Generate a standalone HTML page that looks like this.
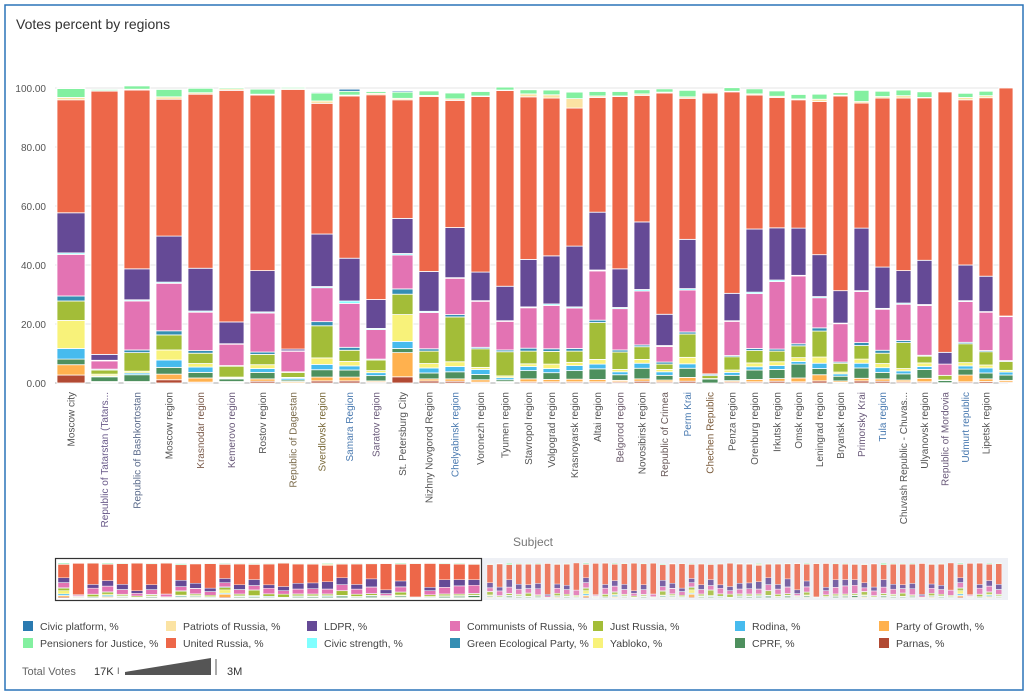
<!DOCTYPE html>
<html><head><meta charset="utf-8"><style>
html,body{margin:0;padding:0;background:#fff;width:1028px;height:695px;overflow:hidden}
svg{display:block;font-family:"Liberation Sans",sans-serif}
</style></head><body>
<svg id="chart" width="1028" height="695">
<rect x="5" y="5" width="1018" height="685" fill="#fff" stroke="#2a73b8" stroke-width="1.5"/>
<text x="16" y="29" font-size="14" fill="#333">Votes percent by regions</text>
<g id="grid"></g><g id="bars"></g><g id="xlabels"></g><g id="nav"></g><g id="legend"></g>
<text x="533" y="546" font-size="12" fill="#777" text-anchor="middle">Subject</text>
<g>
<text x="22" y="675" font-size="11" fill="#666">Total Votes</text>
<text x="94" y="675" font-size="11" fill="#333">17K</text>
<text x="117" y="674" font-size="9" fill="#555">I</text>
<polygon points="125,672 211,658 211,675 125,675" fill="#555"/>
<line x1="216" y1="659" x2="216" y2="675" stroke="#555"/>
<text x="227" y="675" font-size="11" fill="#333">3M</text>
</g>
</svg>
<script>
const regions=["Moscow city","Republic of Tatarstan (Tatars...","Republic of Bashkortostan","Moscow region","Krasnodar region","Kemerovo region","Rostov region","Republic of Dagestan","Sverdlovsk region","Samara Region","Saratov region","St. Petersburg City","Nizhny Novgorod Region","Chelyabinsk region","Voronezh region","Tyumen region","Stavropol region","Volgograd region","Krasnoyarsk region","Altai region","Belgorod region","Novosibirsk region","Republic of Crimea","Perm Krai","Chechen Republic","Penza region","Orenburg region","Irkutsk region","Omsk region","Leningrad region","Bryansk region","Primorsky Krai","Tula region","Chuvash Republic - Chuvas...","Ulyanovsk region","Republic of Mordovia","Udmurt republic","Lipetsk region",""];
const totalVotesK=[3000,2800,2600,2600,2400,2400,2400,2200,1800,1600,1400,1600,1400,1400,1200,1000,800,800,800,800,600,600,800,800,600,600,800,600,400,400,400,400,400,400,400,200,400,200,200];
const parnas=[2.7,.2,.2,1.1,.3,.2,.6,.1,.7,.7,.3,2.1,.7,.6,.3,.2,.4,.4,.4,.4,.4,.6,.4,.6,0,.4,.4,.6,.4,.7,.2,.7,.6,.4,.4,0,.4,.5,.3];
const growth=[3.5,.3,.3,1.9,1.4,.3,.8,.4,1.3,1.3,.4,8.2,.7,.8,.8,.3,1.0,.8,.9,.8,.5,.8,.6,1.3,0,.4,.8,.9,1.3,2.1,.5,.9,.8,.6,1.2,.1,2.3,.9,.6];
const cprf=[1.9,1.6,2.3,2.3,1.9,.9,2.2,.5,2.5,2.4,1.8,1.4,2.0,2.4,1.8,.6,2.8,2.3,2.9,3.6,1.9,3.6,1.6,3.1,1.4,1.8,3.2,3.1,4.7,2.1,1.6,3.5,2.2,2.1,3.0,.8,2.0,2.0,1.8];
const rodina=[3.6,.3,.6,2.5,1.8,.3,1.3,.6,1.8,1.4,1.0,2.4,1.7,1.8,1.7,.7,1.4,1.4,1.7,1.6,1.0,1.7,1.2,1.5,.1,1.0,1.1,1.3,.9,1.8,.8,1.6,1.6,1.0,1.0,.1,1.1,1.7,1.0];
const yabloko=[9.5,.6,.6,3.4,1.2,.3,1.3,.3,2.2,1.5,.7,9.1,1.5,1.6,.7,.6,.9,1.5,1.1,1.6,.8,1.3,.8,2.2,0,.8,1.3,1.3,1.3,2.1,.6,1.4,1.4,.8,1.2,0,1.1,1.0,.6];
const justRussia=[6.6,1.4,6.3,5.1,3.5,3.7,3.5,1.7,10.9,3.8,3.6,6.9,4.2,15.2,6.3,8.2,4.3,4.3,3.8,12.5,5.9,4.3,1.8,7.9,1.0,4.5,4.2,3.6,4.0,8.8,3.0,4.6,3.5,8.8,2.3,1.6,6.4,4.5,3.0];
const greenEco=[1.7,.3,.9,1.4,.9,.2,.8,.2,1.4,1.0,.3,1.8,.8,.8,.5,.6,1.0,.9,.9,.8,.7,.6,.7,.7,.5,.4,.7,.7,.7,1.1,.4,1.0,1.0,.7,.3,0,.5,.4,.3];
const communists=[14.1,2.8,16.6,16.1,13.0,7.3,13.2,7.0,11.5,14.9,10.0,11.5,12.3,12.3,15.6,9.7,13.7,14.7,13.7,16.7,14.0,18.3,5.3,14.2,0,11.6,18.6,22.9,23.0,10.2,13.0,17.3,13.9,12.3,16.9,3.8,13.8,13.0,14.9];
const civicStrength=[.5,.2,.4,.4,.4,.1,.4,.1,.4,.8,.4,.5,.4,.2,.2,.2,.3,.5,.4,.3,.4,.5,.3,.5,0,.2,.5,.5,.2,.4,.2,.3,.3,.4,.3,0,.3,.2,.2];
const ldpr=[13.6,2.0,10.5,15.6,14.5,7.4,14.0,.6,17.8,14.5,9.8,11.9,13.5,17.0,9.7,11.7,16.1,16.3,20.6,19.6,13.1,22.9,10.6,16.7,.1,9.3,21.4,17.7,16.0,14.2,11.0,21.2,14.0,11.0,15.0,4.0,12.1,12.0,0];
const unitedRussia=[38.3,89.3,60.6,46.4,59.0,78.5,59.5,88.0,44.3,55.0,69.4,40.2,59.3,43.1,59.5,66.4,55.1,53.5,46.8,38.9,58.4,42.9,75.0,47.8,95.2,68.3,45.4,44.2,43.5,51.9,66.0,42.4,57.3,58.5,55.1,88.3,56.0,60.5,77.3];
const patriots=[.8,.1,.3,.8,.5,.5,.3,.3,.8,.3,.5,.5,.4,.5,.2,.1,1.0,1.1,3.2,.5,.2,.5,.3,.5,.4,.2,.4,.4,.3,.8,.3,.5,.5,.8,.1,.2,.8,.7,0];
const pensioners=[3.0,.4,1.1,2.5,1.5,.4,1.7,.4,2.7,1.3,.6,2.1,1.5,2.0,1.5,1.0,1.4,1.6,2.2,1.5,1.5,1.4,1.1,2.2,.3,1.2,1.7,1.8,1.5,1.7,.8,3.8,1.8,1.9,1.9,.1,1.4,1.5,0];
const civicPlatform=[.2,0,0,0,0,0,0,0,.3,.7,0,.4,0,0,0,0,0,0,0,0,0,0,0,0,0,0,0,0,0,0,0,0,0,0,0,0,0,0,0];
const yTicks=["0.00","20.00","40.00","60.00","80.00","100.00"];

const seriesNames=["Parnas, %","Party of Growth, %","CPRF, %","Rodina, %","Yabloko, %","Just Russia, %","Green Ecological Party, %","Communists of Russia, %","Civic strength, %","LDPR, %","United Russia, %","Patriots of Russia, %","Pensioners for Justice, %","Civic platform, %"];
const seriesData=[parnas,growth,cprf,rodina,yabloko,justRussia,greenEco,communists,civicStrength,ldpr,unitedRussia,patriots,pensioners,civicPlatform];
const seriesColors=["#b24a33","#ffb14e","#4e905e","#47bbee","#f8f27a","#a3bd38","#358eb3","#e373b3","#80ffff","#654a96","#ed6749","#fbe3a3","#83f0a0","#2a7ab0"];
const slugs=["parnas","party-of-growth","cprf","rodina","yabloko","just-russia","green-ecological","communists-of-russia","civic-strength","ldpr","united-russia","patriots-of-russia","pensioners-for-justice","civic-platform"];
const NS="http://www.w3.org/2000/svg";
function mk(tag,attrs,parent){const e=document.createElementNS(NS,tag);for(const k in attrs)e.setAttribute(k,attrs[k]);parent.appendChild(e);return e;}
const Y0=383,Y100=88;
function y(v){return Y0-(Y100-Y0)*-v/100;}
function barW(v){return 13+15*v/3000;}
const grid=document.getElementById('grid');
yTicks.forEach(t=>{const v=parseFloat(t);const yy=y(v);
 const l=mk('line',{x1:55,x2:1008,y1:yy,y2:yy,stroke:v===0?'#aaa':'#e6e6e6','stroke-width':1},grid);
 
 
 const tx=mk('text',{x:46,y:yy+4,'font-size':10,fill:'#555','text-anchor':'end'},grid);tx.textContent=t;
 
 
});
const clip=mk('clipPath',{id:'plotclip'},document.getElementById('chart'));
mk('rect',{x:50,y:80,width:964,height:310},clip);
const bars=document.getElementById('bars');bars.setAttribute('clip-path','url(#plotclip)');
const xl=document.getElementById('xlabels');
const labelColors=["#555","#6a5a8a","#5a6a8a","#555","#7a5a4a","#6a5a7a","#555","#7a6a4a","#7a6a3a","#4a7ab0","#6a5a7a","#555","#555","#4a7ab0","#555","#555","#555","#555","#555","#555","#6a5a6a","#555","#6a5a5a","#4a7ab0","#7a5a3a","#555","#555","#555","#555","#555","#555","#6a5a7a","#4a7ab0","#555","#555","#6a5a7a","#4a7ab0","#555","#555"];
let x=57;
regions.forEach((r,i)=>{
 const w=barW(totalVotesK[i]);
 const g=mk('g',{},bars);
 
 
 let cum=0;
 seriesData.forEach((s,k)=>{const v=s[i];if(v<=0)return;
  const y1=y(cum+v),y2=y(cum);cum+=v;
  const rc=mk('rect',{x:x,y:y1,width:w,height:Math.max(0.5,y2-y1),fill:seriesColors[k],stroke:'#fff','stroke-width':0.8},g);
  
  
 });
 if(r){const t=mk('text',{transform:`translate(${x+w/2+3.5},392) rotate(-90)`,'font-size':10,fill:labelColors[i],'text-anchor':'end'},xl);t.textContent=r;
  
  }
 x+=w+6;
});
// navigator
const nav=document.getElementById('nav');
const nb=mk('rect',{x:55,y:558,width:953,height:42,fill:'#eef0f5'},nav);


const sel=mk('rect',{x:55,y:558,width:426,height:42,fill:'#fff'},nav);
const navH=35,navB=598;
function navBar(i,bx,bw){let cum=0;
 seriesData.forEach((s,k)=>{const v=s[i%regions.length];if(v<=0)return;
  const h=v/100*navH;const r=mk('rect',{x:bx,y:navB-(cum+v)/100*navH,width:bw,height:h,fill:seriesColors[k],stroke:'#fff','stroke-width':0.4,opacity:bx>481?0.85:1},nav);cum+=v;
  
  });}
for(let i=0;i<29;i++)navBar(i,58+i*14.65,11.5);
for(let i=0;i<54;i++)navBar(i+29,487+i*9.6,6);
const sb=mk('rect',{x:55.5,y:558.5,width:426,height:42,fill:'none',stroke:'#333','stroke-width':1.2},nav);


// legend
const legend=document.getElementById('legend');
const legOrder=[13,11,9,7,5,3,1,12,10,8,6,4,2,0];
const colX=[23,166,307,450,593,735,879];
legOrder.forEach((k,j)=>{const cx=colX[j%7],cy=j<7?621:638;
 const g=mk('g',{},legend);
 
 
 mk('rect',{x:cx,y:cy,width:10,height:10,fill:seriesColors[k]},g);
 const t=mk('text',{x:cx+17,y:cy+9,'font-size':10.5,fill:'#444'},g);t.textContent=seriesNames[k];});
</script>
</body></html>
